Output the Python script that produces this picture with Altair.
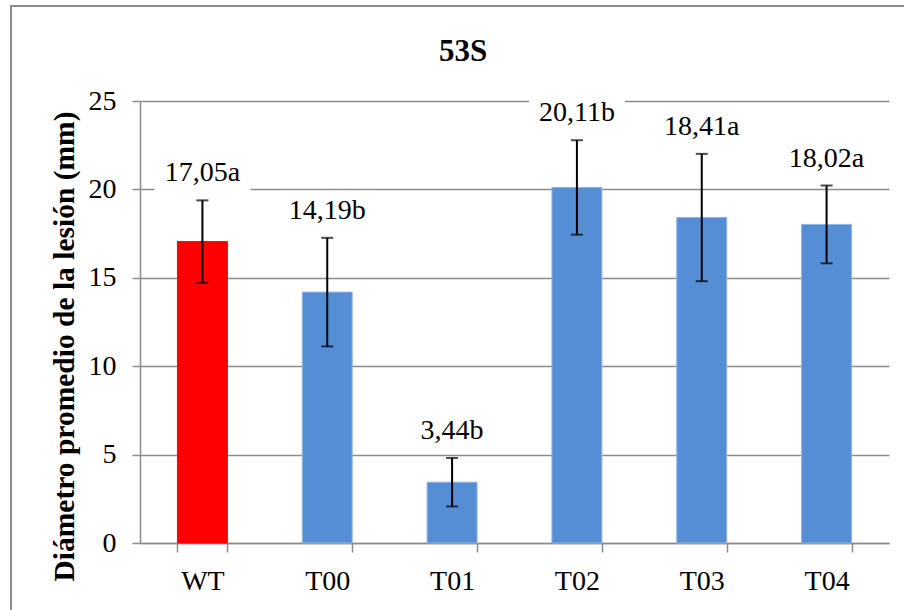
import altair as alt
import pandas as pd

# Lesion diameter per line, mean ± error and significance letter
categories = ["WT", "T00", "T01", "T02", "T03", "T04"]
means = [17.05, 14.19, 3.44, 20.11, 18.41, 18.02]
errors = [2.33, 3.07, 1.37, 2.67, 3.60, 2.20]
letters = ["a", "b", "b", "b", "a", "a"]
groups = ["WT", "T", "T", "T", "T", "T"]
y_ticks = [0, 5, 10, 15, 20, 25]
chart_title = "53S"

df = pd.DataFrame({
    "cat": categories,
    "mean": means,
    "err": errors,
    "group": groups,
})
df["lo"] = df["mean"] - df["err"]
df["hi"] = df["mean"] + df["err"]
df["label"] = [f"{m:.2f}".replace(".", ",") + l for m, l in zip(means, letters)]

SERIF = "Liberation Serif"
GRID = "#8c8c8c"

x_enc = alt.X(
    "cat:N",
    sort=categories,
    scale=alt.Scale(paddingInner=0.6, paddingOuter=0.3),
    axis=alt.Axis(
        title=None, labelAngle=0, labelFont=SERIF, labelFontSize=28,
        labelColor="black", labelBaseline="alphabetic", labelPadding=37,
        tickBand="extent", tickSize=9, tickColor=GRID, tickWidth=1.5,
        domainColor=GRID, domainWidth=1.5, grid=False,
    ),
)

y_scale = alt.Scale(domain=[0, 25], nice=False)

bars = alt.Chart(df).mark_bar(strokeWidth=1).encode(
    x=x_enc,
    y=alt.Y(
        "mean:Q", scale=y_scale,
        axis=alt.Axis(
            values=y_ticks, title="Diámetro promedio de la lesión (mm)",
            titleFont=SERIF, titleFontSize=29.5, titleFontWeight="bold",
            titleColor="black", titleX=-76, titleY=245, titleBaseline="middle",
            labelFont=SERIF, labelFontSize=28, labelColor="black", labelPadding=16,
            tickSize=8, tickColor=GRID, tickWidth=1.5,
            domainColor=GRID, domainWidth=1.5,
            gridColor=GRID, gridWidth=1.5,
        ),
    ),
    color=alt.Color("group:N", scale=alt.Scale(domain=["WT", "T"], range=["#ff0000", "#558ed5"]), legend=None),
    stroke=alt.Color("group:N", scale=alt.Scale(domain=["WT", "T"], range=["#ff0000", "#8eb4e3"]), legend=None),
)

whisker = alt.Chart(df).mark_rule(color="black", strokeWidth=2).encode(
    x=alt.X("cat:N", sort=categories),
    y=alt.Y("lo:Q", scale=y_scale),
    y2="hi:Q",
)
cap_hi = alt.Chart(df).mark_tick(color="black", size=12, thickness=2).encode(
    x=alt.X("cat:N", sort=categories), y=alt.Y("hi:Q", scale=y_scale)
)
cap_lo = alt.Chart(df).mark_tick(color="black", size=12, thickness=2).encode(
    x=alt.X("cat:N", sort=categories), y=alt.Y("lo:Q", scale=y_scale)
)

# white boxes behind the value labels (they interrupt the gridlines)
label_box = alt.Chart(df).mark_bar(color="white", size=96, yOffset=-47, y2Offset=-7).encode(
    x=alt.X("cat:N", sort=categories),
    y=alt.Y("hi:Q", scale=y_scale),
    y2="hi:Q",
)
labels = alt.Chart(df).mark_text(
    font=SERIF, fontSize=28, color="black", baseline="middle", dy=-27
).encode(
    x=alt.X("cat:N", sort=categories),
    y=alt.Y("hi:Q", scale=y_scale),
    text="label:N",
)

# outer frame of the chart and its title
frame = alt.Chart(alt.Data(values=[{}])).mark_rect(
    filled=False, stroke="#8c8c8c", strokeWidth=2
).encode(
    x=alt.value(-129), x2=alt.value(790),
    y=alt.value(-95), y2=alt.value(540),
)
title = alt.Chart(alt.Data(values=[{"t": chart_title}])).mark_text(
    font=SERIF, fontSize=31, fontWeight="bold", color="black", baseline="middle", align="center"
).encode(
    x=alt.value(323), y=alt.value(-49), text="t:N",
)

chart = alt.layer(frame, title, bars, label_box, whisker, cap_hi, cap_lo, labels).properties(
    width=749,
    height=442,
    autosize=alt.AutoSizeParams(type="none"),
    padding={"left": 140, "top": 101, "right": 15, "bottom": 67},
    background="white",
).configure_view(stroke=None).resolve_scale(color="independent")

chart.save("out.html", embed_options={"renderer": "svg", "actions": False})
